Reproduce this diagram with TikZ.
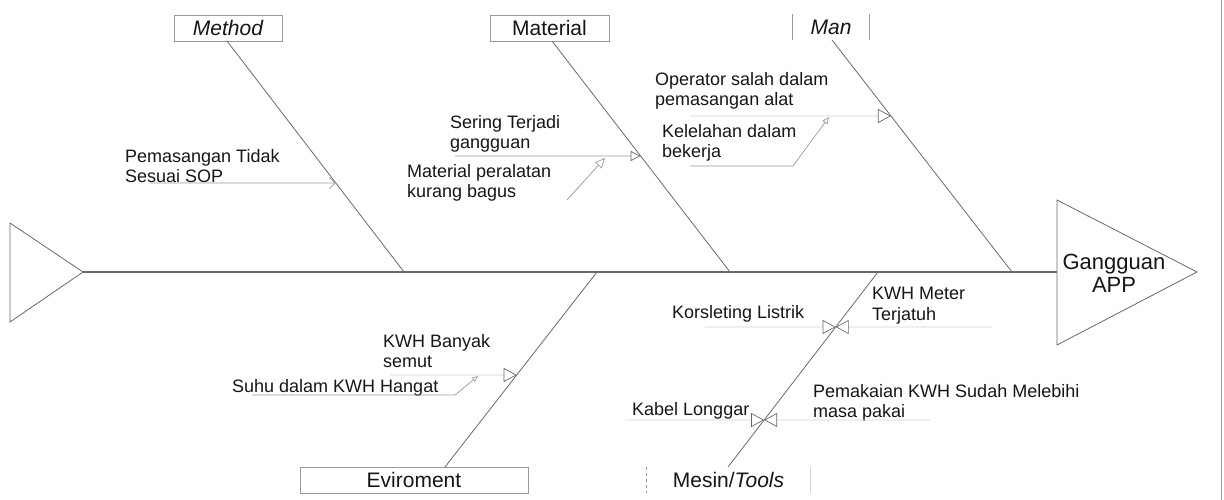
\documentclass[tikz,border=0pt]{standalone}
\usepackage{fontspec}
\setmainfont{Liberation Sans}
\usetikzlibrary{arrows.meta,calc}
\definecolor{bone}{HTML}{6A6A6A}
\definecolor{subc}{HTML}{9A9A9A}
\definecolor{faint}{HTML}{D4D4D4}
\definecolor{ink}{HTML}{161616}
\begin{document}
\begin{tikzpicture}[x=1pt,y=-1pt,
  lbl/.style={font=\fontsize{18}{20.5}\selectfont, text=ink, inner sep=0pt, align=left, anchor=north west},
  cat/.style={font=\fontsize{21}{24}\selectfont, text=ink, inner sep=0pt, minimum height=26pt},
  catbox/.style={cat, draw=subc, line width=0.7pt},
  bonel/.style={draw=bone, line width=0.8pt},
  subl/.style={draw=subc, line width=0.7pt},
  faintl/.style={draw=faint, line width=0.7pt},
  otri/.style={-{Triangle[open,length=13pt,width=14pt,color=bone]}},
]
\useasboundingbox (0,0) rectangle (1224,500);
\fill[white] (0,0) rectangle (1224,500);
\draw[subc, line width=0.8pt] (1221,0) -- (1221,500);

% spine, tail and head
\coordinate (tailtip) at (83,272);
\coordinate (headL) at (1057,272);
\draw[bone, line width=0.8pt] (10,223) -- (tailtip) -- (10,322) -- cycle;
\draw[bone, line width=0.8pt] (1057,200) -- (1197,272) -- (1057,345) -- cycle;
\draw[bone, line width=1.2pt] (tailtip) -- (headL);
\node[font=\fontsize{22}{23}\selectfont, text=ink, align=center, inner sep=0pt, anchor=north] (head) at (1114,254) {Gangguan\\APP};

% category boxes
\node[catbox, minimum width=108pt] (method) at (228,28) {\itshape Method};
\node[catbox, minimum width=119pt] (material) at (549.5,28) {Material};
\node[cat, minimum width=76pt] (man) at (831,27) {\itshape Man};
\draw[subc, line width=0.7pt] (man.north west) -- (man.south west);
\draw[subc, line width=0.7pt] (man.north east) -- (man.south east);
\node[catbox, minimum width=228pt] (env) at (414,480) {Eviroment};
\node[cat, minimum width=163pt] (mesin) at (728.5,480) {Mesin/\textit{Tools}};
\draw[subc, line width=0.7pt, dashed] (mesin.north west) -- (mesin.south west);
\draw[faint, line width=0.7pt] (mesin.north east) -- (mesin.south east);

% bones
\coordinate (mT) at (227,41);  \coordinate (mS) at (404,272);
\coordinate (maT) at (552,41); \coordinate (maS) at (730,272);
\coordinate (mnT) at (832,40); \coordinate (mnS) at (1012,272);
\coordinate (eS) at (597,272); \coordinate (eB) at (445,467);
\coordinate (tS) at (878,272); \coordinate (tB) at (728,467);
\draw[bonel] (mT) -- (mS);
\draw[bonel] (maT) -- (maS);
\draw[bonel] (mnT) -- (mnS);
\draw[bonel] (eS) -- (eB);
\draw[bonel] (tS) -- (tB);

% points on bones
\coordinate (m1) at ($(mT)!{(183-41)/231}!(mS)$);
\coordinate (ma1) at ($(maT)!{(156-41)/231}!(maS)$);
\coordinate (mn1) at ($(mnT)!{(116-40)/232}!(mnS)$);
\coordinate (e1) at ($(eS)!{(375-272)/195}!(eB)$);
\coordinate (t1) at ($(tS)!{(327-272)/195}!(tB)$);
\coordinate (t2) at ($(tS)!{(420-272)/195}!(tB)$);

% Method causes
\node[lbl] (sop) at (125,149) {Pemasangan Tidak\\Sesuai SOP};
\draw[subl, -{Straight Barb[length=6pt,width=11pt]}] (150,183) -- (m1);

% Material causes
\node[lbl] (sering) at (450,115) {Sering Terjadi\\gangguan};
\draw[subl, -{Triangle[open,length=10pt,width=10pt,color=bone]}] (455,156) -- (ma1);
\node[lbl] (peralatan) at (407,164) {Material peralatan\\kurang bagus};
\draw[subl, -{Triangle[open,length=10pt,width=9pt]}] (567,200) -- (605,158);

% Man causes
\node[lbl] (operator) at (655,72) {Operator salah dalam\\pemasangan alat};
\draw[faintl, otri] (690,116) -- (mn1);
\node[lbl] (lelah) at (662,124) {Kelelahan dalam\\bekerja};
\coordinate (lelahA) at (690,166);
\coordinate (lelahB) at (793,166);
\coordinate (lelahC) at (829,117);
\draw[subl, -{Triangle[open,length=7pt,width=6pt]}] (lelahA) -- (lelahB) -- (lelahC);

% Environment causes
\node[lbl] (semut) at (383,334) {KWH Banyak\\semut};
\draw[faintl, otri] (390,375) -- (e1);
\node[lbl] (suhu) at (232,379) {Suhu dalam KWH Hangat};
\coordinate (suhuA) at (252,395);
\coordinate (suhuB) at (455,395);
\coordinate (suhuC) at (478,376);
\draw[subl, -{Triangle[open,length=6pt,width=5pt]}] (suhuA) -- (suhuB) -- (suhuC);

% Mesin causes
\node[lbl] (korslet) at (672,305) {Korsleting Listrik};
\draw[faintl, otri] (705,327) -- (t1);
\node[lbl] (jatuh) at (872,287) {KWH Meter\\Terjatuh};
\draw[faintl, otri] (992,327) -- (t1);
\node[lbl] (pakai) at (813,384) {Pemakaian KWH Sudah Melebihi\\masa pakai};
\draw[faintl, otri] (930,420) -- (t2);
\node[lbl] (kabel) at (632,402) {Kabel Longgar};
\draw[faintl, otri] (625,420) -- (t2);
\end{tikzpicture}
\end{document}
